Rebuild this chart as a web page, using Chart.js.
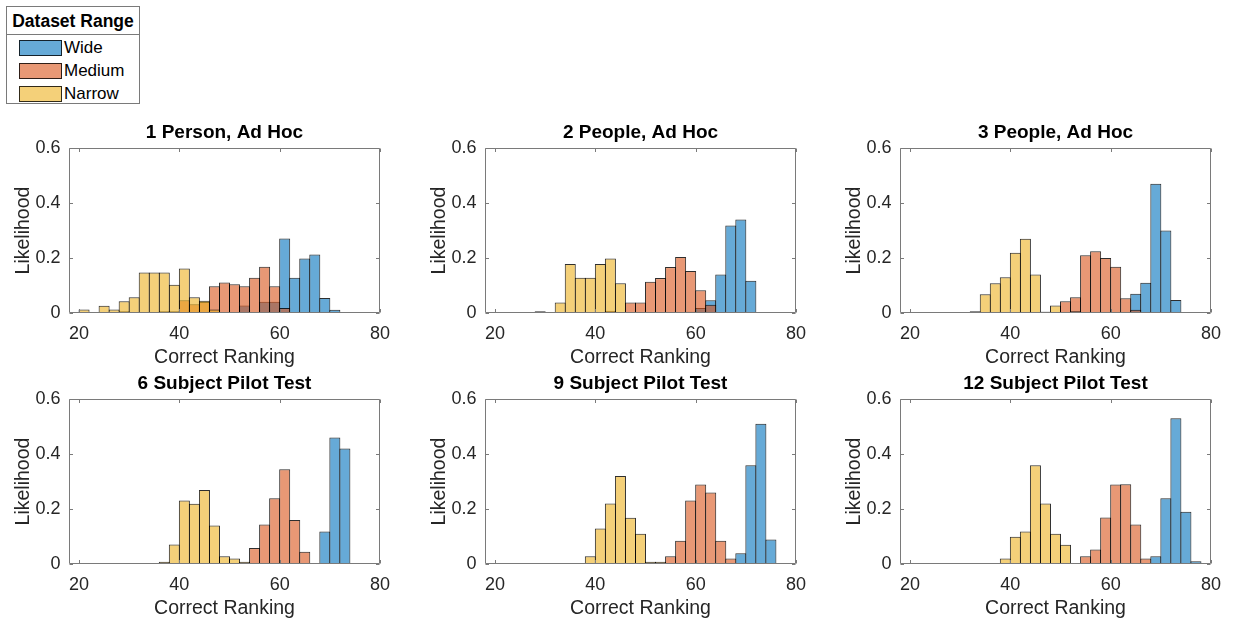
<!DOCTYPE html>
<html>
<head>
<meta charset="utf-8">
<title>Correct Ranking Histograms</title>
<script src="https://cdn.jsdelivr.net/npm/chart.js@4.4.1/dist/chart.umd.min.js"></script>
<style>
  html, body { margin: 0; padding: 0; background: #ffffff; }
  body {
    width: 1233px; height: 623px; position: relative; overflow: hidden;
    font-family: "Liberation Sans", Arial, Helvetica, sans-serif; color: #262626;
  }
  .panel { position: absolute; width: 400px; height: 250px; }
  .legend {
    position: absolute; left: 6px; top: 6px; width: 134px; height: 98px;
    box-sizing: border-box; border: 1px solid #7a7a7a; background: #fff;
  }
  .legend .head {
    position: absolute; left: 0; right: 0; top: 0; height: 27px;
    border-bottom: 1px solid #7a7a7a; text-align: center;
    font-weight: bold; font-size: 17.5px; line-height: 28px; color: #000;
  }
  .legend .item { position: absolute; left: 12px; height: 16px; }
  .legend .sw {
    position: absolute; left: 0; top: 0; width: 43px; height: 16px;
    box-sizing: border-box; border: 1px solid rgba(0,0,0,0.8);
  }
  .legend .lbl {
    position: absolute; left: 45px; top: -2px; font-size: 17px; line-height: 20px;
    white-space: nowrap; color: #000;
  }
</style>
</head>
<body>

<div class="legend" id="legend">
  <div class="head">Dataset Range</div>
</div>

<canvas class="panel" id="p1" width="400" height="250" style="left:0px;top:120px"></canvas>
<canvas class="panel" id="p2" width="400" height="250" style="left:416px;top:120px"></canvas>
<canvas class="panel" id="p3" width="400" height="250" style="left:831px;top:120px"></canvas>
<canvas class="panel" id="p4" width="400" height="250" style="left:0px;top:371px"></canvas>
<canvas class="panel" id="p5" width="400" height="250" style="left:416px;top:371px"></canvas>
<canvas class="panel" id="p6" width="400" height="250" style="left:831px;top:371px"></canvas>

<script>
// Histogram bins: width 2, centred on these values (bins run from 20 to 80)
const binCenters = [21, 23, 25, 27, 29, 31, 33, 35, 37, 39,
                    41, 43, 45, 47, 49, 51, 53, 55, 57, 59,
                    61, 63, 65, 67, 69, 71, 73, 75, 77, 79];

const xTickValues = [20, 40, 60, 80];
const yTickValues = [0, 0.2, 0.4, 0.6];
const yTickLabels = ['0', '0.2', '0.4', '0.6'];

const seriesNames = ['Wide', 'Medium', 'Narrow'];
const panelTitles = ['1 Person, Ad Hoc', '2 People, Ad Hoc', '3 People, Ad Hoc',
                     '6 Subject Pilot Test', '9 Subject Pilot Test', '12 Subject Pilot Test'];

// 1 Person, Ad Hoc
const wide1   = [0,0,0,0,0,0,0,0,0,0, 0,0,0,0,0,0,0.027,0,0.041,0.041, 0.271,0.128,0.198,0.213,0.055,0.012,0,0,0,0];
const medium1 = [0,0,0,0,0.006,0,0,0,0.006,0.006, 0.046,0.032,0.04,0.097,0.111,0.105,0.097,0.128,0.168,0.097, 0.018,0.004,0,0,0,0,0,0,0,0];
const narrow1 = [0.013,0,0.026,0.013,0.043,0.057,0.147,0.147,0.147,0.103, 0.162,0.057,0.045,0.013,0,0,0,0,0,0, 0,0,0,0,0,0,0,0,0,0];

// 2 People, Ad Hoc
const wide2   = [0,0,0,0,0,0,0,0,0,0, 0,0,0,0,0,0,0,0,0,0.005, 0.018,0.046,0.14,0.318,0.34,0.117,0,0,0,0];
const medium2 = [0,0,0,0,0,0,0,0,0,0, 0.003,0.008,0,0.038,0.038,0.114,0.127,0.167,0.204,0.153, 0.083,0.03,0.003,0.003,0,0,0,0,0,0];
const narrow2 = [0,0,0,0,0.006,0,0.038,0.178,0.128,0.128, 0.178,0.198,0.108,0.004,0.004,0,0,0,0,0, 0,0,0,0,0,0,0,0,0,0];

// 3 People, Ad Hoc
const wide3   = [0,0,0,0,0,0,0,0,0,0, 0,0,0,0,0,0,0,0,0,0, 0,0,0.07,0.11,0.47,0.3,0.047,0,0,0];
const medium3 = [0,0,0,0,0,0,0,0,0,0, 0,0,0,0.005,0,0.043,0.057,0.21,0.225,0.2, 0.168,0.054,0.012,0,0,0,0,0,0,0];
const narrow3 = [0,0,0,0,0,0,0.006,0.068,0.108,0.13, 0.219,0.27,0.14,0.005,0.027,0,0.006,0,0,0, 0,0,0,0,0,0,0,0,0,0];

// 6 Subject Pilot Test
const wide4   = [0,0,0,0,0,0,0,0,0,0, 0,0,0,0,0,0,0,0,0,0, 0,0,0,0,0.118,0.46,0.42,0,0,0];
const medium4 = [0,0,0,0,0,0,0,0,0,0, 0,0,0,0,0,0,0,0.058,0.144,0.239, 0.345,0.16,0.045,0,0,0,0,0,0,0];
const narrow4 = [0,0,0,0,0,0,0,0,0.008,0.071, 0.231,0.219,0.269,0.14,0.028,0.02,0.008,0,0,0, 0,0,0,0,0,0,0,0,0,0];

// 9 Subject Pilot Test
const wide5   = [0,0,0,0,0,0,0,0,0,0, 0,0,0,0,0,0,0,0,0,0, 0,0,0,0,0.039,0.359,0.51,0.089,0,0];
const medium5 = [0,0,0,0,0,0,0,0,0,0, 0,0,0,0,0,0,0,0.028,0.085,0.231, 0.289,0.26,0.085,0.02,0,0,0,0,0,0];
const narrow5 = [0,0,0,0,0,0,0,0,0,0.028, 0.129,0.22,0.32,0.168,0.11,0.008,0.008,0,0,0, 0,0,0,0,0,0,0,0,0,0];

// 12 Subject Pilot Test
const wide6   = [0,0,0,0,0,0,0,0,0,0, 0,0,0,0,0,0,0,0,0,0, 0,0,0,0,0.028,0.239,0.53,0.19,0.01,0];
const medium6 = [0,0,0,0,0,0,0,0,0,0, 0,0,0,0,0,0,0,0.028,0.053,0.169, 0.289,0.29,0.144,0.02,0,0,0,0,0,0];
const narrow6 = [0,0,0,0,0,0,0,0,0,0.02, 0.099,0.118,0.359,0.22,0.11,0.07,0,0,0,0, 0,0,0,0,0,0,0,0,0,0];

// Semi-transparent face colours so overlapping bins blend
const faceColors = ['rgba(0,114,189,0.6)', 'rgba(217,83,25,0.6)', 'rgba(237,177,32,0.6)'];
const edgeColor = 'rgba(0,0,0,0.82)';
const axisColor = '#7a7a7a';
const textColor = '#262626';
const fontFamily = '"Liberation Sans", Arial, Helvetica, sans-serif';

Chart.defaults.font.family = fontFamily;
Chart.defaults.color = textColor;

// Legend entries
const legendEl = document.getElementById('legend');
seriesNames.forEach((name, i) => {
  const item = document.createElement('div');
  item.className = 'item';
  item.style.top = (33 + i * 23) + 'px';
  item.innerHTML = '<div class="sw" style="background:' + faceColors[i] + '"></div><div class="lbl">' + name + '</div>';
  legendEl.appendChild(item);
});

// Axes box with inward tick marks on all four sides
const boxFrame = {
  id: 'boxFrame',
  afterDatasetsDraw(chart) {
    const { ctx, chartArea: a, scales: { x, y } } = chart;
    const L = Math.round(a.left) + 0.5, R = Math.round(a.right) - 0.5;
    const T = Math.round(a.top) + 0.5, B = Math.round(a.bottom) - 0.5;
    const tl = 3.5;
    ctx.save();
    ctx.strokeStyle = axisColor;
    ctx.lineWidth = 1;
    ctx.beginPath();
    ctx.rect(L, T, R - L, B - T);
    xTickValues.forEach(v => {
      const px = Math.round(x.getPixelForValue(v)) + 0.5;
      ctx.moveTo(px, B); ctx.lineTo(px, B - tl);
      ctx.moveTo(px, T); ctx.lineTo(px, T + tl);
    });
    yTickValues.forEach(v => {
      const py = Math.round(y.getPixelForValue(v)) + 0.5;
      ctx.moveTo(L, py); ctx.lineTo(L + tl, py);
      ctx.moveTo(R, py); ctx.lineTo(R - tl, py);
    });
    ctx.stroke();
    ctx.restore();
  }
};

function makePanel(canvasId, title, wide, medium, narrow) {
  const series = [wide, medium, narrow];
  const datasets = series.map((vals, i) => ({
    label: seriesNames[i],
    data: binCenters.map((c, k) => ({ x: c, y: vals[k] })),
    backgroundColor: faceColors[i],
    borderColor: edgeColor,
    borderWidth: 1,
    borderSkipped: 'start',
    grouped: false,
    barPercentage: 1.1,
    categoryPercentage: 1,
    order: 3 - i
  }));

  return new Chart(document.getElementById(canvasId), {
    type: 'bar',
    data: { datasets },
    plugins: [boxFrame],
    options: {
      responsive: false,
      maintainAspectRatio: false,
      animation: false,
      devicePixelRatio: 1,
      layout: { padding: { left: 0, right: 16, top: 0, bottom: 0 } },
      plugins: {
        legend: { display: false },
        tooltip: { enabled: false },
        title: {
          display: true, text: title, fullSize: false, color: '#000000',
          font: { size: 19, weight: 'bold', lineHeight: 1.2 },
          padding: { top: 1.3, bottom: 3.9 }
        }
      },
      scales: {
        x: {
          type: 'linear', min: 18, max: 80, offset: false,
          grid: { display: false, drawTicks: false },
          border: { display: false },
          afterBuildTicks: s => { s.ticks = xTickValues.map(v => ({ value: v })); },
          afterFit: s => { s.height = 57; },
          ticks: { color: textColor, font: { size: 18 }, padding: 10, maxRotation: 0, autoSkip: false },
          title: {
            display: true, text: 'Correct Ranking', color: textColor,
            font: { size: 19.5, lineHeight: 1.2 }, padding: { top: 0, bottom: 0.8 }
          }
        },
        y: {
          min: 0, max: 0.6,
          grid: { display: false, drawTicks: false },
          border: { display: false },
          afterBuildTicks: s => { s.ticks = yTickValues.map(v => ({ value: v })); },
          afterFit: s => { s.width = 69; },
          ticks: {
            color: textColor, font: { size: 18 }, padding: 8.5, autoSkip: false,
            callback: (v) => yTickLabels[yTickValues.indexOf(v)]
          },
          title: {
            display: true, text: 'Likelihood', color: textColor,
            font: { size: 19.5, lineHeight: 1.2 }, padding: { top: 12.1, bottom: 0 }
          }
        }
      }
    }
  });
}

makePanel('p1', panelTitles[0], wide1, medium1, narrow1);
makePanel('p2', panelTitles[1], wide2, medium2, narrow2);
makePanel('p3', panelTitles[2], wide3, medium3, narrow3);
makePanel('p4', panelTitles[3], wide4, medium4, narrow4);
makePanel('p5', panelTitles[4], wide5, medium5, narrow5);
makePanel('p6', panelTitles[5], wide6, medium6, narrow6);
</script>
</body>
</html>
